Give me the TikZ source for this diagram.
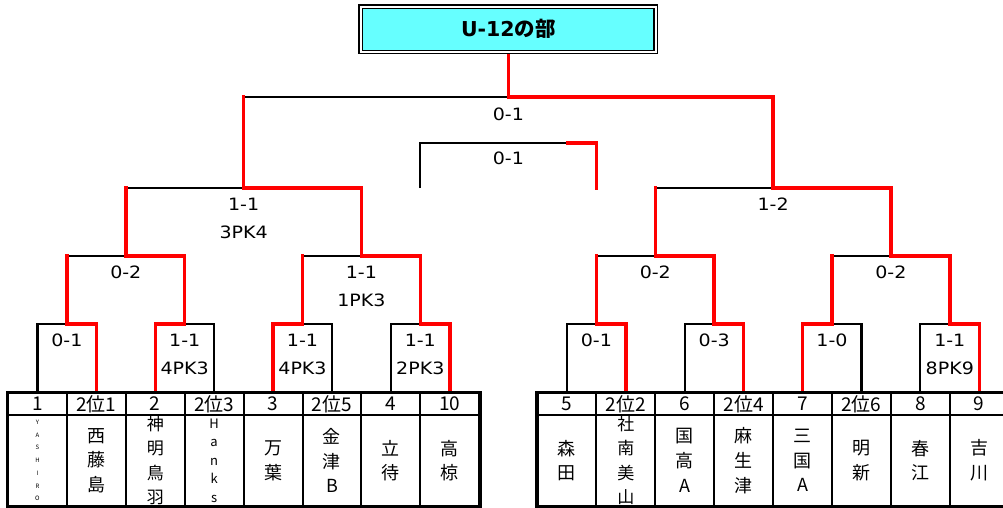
\documentclass[tikz,border=0pt]{standalone}
\usepackage{fontspec}
\usetikzlibrary{positioning}
\newfontfamily\jpfont{Noto Sans CJK JP}
\newfontfamily\latfont{DejaVu Sans}
\newfontfamily\scorefont{DejaVu Sans}[FakeStretch=1.12]
\definecolor{titlecyan}{HTML}{66FFFF}
\definecolor{winred}{HTML}{FF0000}
\begin{document}
\begin{tikzpicture}[
        x=1pt, y=-1pt,
        line join=miter,
        font=\jpfont
    ]
    \tikzset{
        headnode/.style = {rectangle, draw=black, line width=2pt, minimum width=58.9pt, minimum height=22pt, inner sep=0pt, font=\jpfont\fontsize{19}{20}\selectfont},
        teamnode/.style = {rectangle, draw=black, line width=2pt, minimum width=58.9pt, minimum height=91pt, inner sep=0pt, align=center, font=\jpfont\fontsize{18}{24.7}\selectfont},
        titlenode/.style = {rectangle, draw=black, fill=titlecyan, line width=1.6pt, double=white, double distance=1.6pt, minimum width=295pt, minimum height=45.2pt, font=\bfseries\fontsize{20.5}{24}\selectfont},
        score/.style = {inner sep=0pt, align=center, font=\scorefont\fontsize{17}{28.5}\selectfont},
        edgen/.style = {-, line width=2.2pt, black},
        edger/.style = {-, line width=3.5pt, winred, line cap=rect},
        tablebox/.style = {line width=3pt, black},
    }
    \useasboundingbox (0,0) rectangle (1003,507);
    %
    \coordinate (m1) at (66.9,324);
    \coordinate (m2) at (184.7,324);
    \coordinate (m3) at (302.5,324);
    \coordinate (m4) at (420.3,324);
    \coordinate (m5) at (596.4,324);
    \coordinate (m6) at (714.2,324);
    \coordinate (m7) at (832.0,324);
    \coordinate (m8) at (949.8,324);
    \coordinate (q1) at (125.8,256);
    \coordinate (q2) at (361.4,256);
    \coordinate (q3) at (655.3,256);
    \coordinate (q4) at (890.9,256);
    \coordinate (s1) at (243.6,188);
    \coordinate (s2) at (773.1,188);
    \coordinate (f) at (508.35,97);
    \coordinate (tp) at (508.35,143);
    \coordinate (tx) at (568,143);
    \coordinate (tl) at (420.3,188);
    \coordinate (tr) at (596.4,188);
    %
    \node[headnode] at (37.45,404) (h1) {1};
    \node[headnode] at (96.35,404) (h2) {2位1};
    \node[headnode] at (155.25,404) (h3) {2};
    \node[headnode] at (214.15,404) (h4) {2位3};
    \node[headnode] at (273.05,404) (h5) {3};
    \node[headnode] at (331.95,404) (h6) {2位5};
    \node[headnode] at (390.85,404) (h7) {4};
    \node[headnode] at (449.75,404) (h8) {10};
    \node[headnode] at (566.95,404) (h9) {5};
    \node[headnode] at (625.85,404) (h10) {2位2};
    \node[headnode] at (684.75,404) (h11) {6};
    \node[headnode] at (743.65,404) (h12) {2位4};
    \node[headnode] at (802.55,404) (h13) {7};
    \node[headnode] at (861.45,404) (h14) {2位6};
    \node[headnode] at (920.35,404) (h15) {8};
    \node[headnode] at (979.25,404) (h16) {9};
    %
    \draw[edgen] (h1.north) |- (m1);
    \draw[edger] (h2.north) |- (m1);
    \draw[edgen] (h4.north) |- (m2);
    \draw[edger] (h3.north) |- (m2);
    \draw[edgen] (h6.north) |- (m3);
    \draw[edger] (h5.north) |- (m3);
    \draw[edgen] (h7.north) |- (m4);
    \draw[edger] (h8.north) |- (m4);
    \draw[edgen] (h9.north) |- (m5);
    \draw[edger] (h10.north) |- (m5);
    \draw[edgen] (h11.north) |- (m6);
    \draw[edger] (h12.north) |- (m6);
    \draw[edgen] (h14.north) |- (m7);
    \draw[edger] (h13.north) |- (m7);
    \draw[edgen] (h15.north) |- (m8);
    \draw[edger] (h16.north) |- (m8);
    %
    \draw[edgen] (m1 |- q1) -- (q1);
    \draw[edger] (m1) -- (m1 |- q1);
    \draw[edger] (m2) |- (q1);
    \draw[edgen] (m3 |- q2) -- (q2);
    \draw[edger] (m3) -- (m3 |- q2);
    \draw[edger] (m4) |- (q2);
    \draw[edgen] (m5 |- q3) -- (q3);
    \draw[edger] (m5) -- (m5 |- q3);
    \draw[edger] (m6) |- (q3);
    \draw[edgen] (m7 |- q4) -- (q4);
    \draw[edger] (m7) -- (m7 |- q4);
    \draw[edger] (m8) |- (q4);
    %
    \draw[edgen] (q1 |- s1) -- (s1);
    \draw[edger] (q1) -- (q1 |- s1);
    \draw[edger] (q2) |- (s1);
    \draw[edgen] (q3 |- s2) -- (s2);
    \draw[edger] (q3) -- (q3 |- s2);
    \draw[edger] (q4) |- (s2);
    %
    \draw[edgen] (s1 |- f) -- (f);
    \draw[edger] (s1) -- (s1 |- f);
    \draw[edger] (s2) |- (f);
    \draw[edger] (f) -- (508.35,54);
    %
    \draw[edgen] (tl) |- (tx);
    \draw[edger] (tr) |- (tx);
    %
    \node[titlenode] at (508.35,29.3) (title) {\latfont U-12\jpfont の部};
    %
    \node[teamnode, font=\jpfont\fontsize{6}{12.7}\selectfont] at (37.45,460.5) (b1) {Y\\A\\S\\H\\I\\R\\O};
    \node[teamnode] at (96.35,460.5) (b2) {西\\藤\\島};
    \node[teamnode, font=\jpfont\fontsize{17}{24.4}\selectfont] at (155.25,460.5) (b3) {神\\明\\鳥\\羽};
    \node[teamnode, font=\jpfont\fontsize{13}{18.5}\selectfont] at (214.15,460.5) (b4) {H\\a\\n\\k\\s};
    \node[teamnode] at (273.05,460.5) (b5) {万\\葉};
    \node[teamnode] at (331.95,460.5) (b6) {金\\津\\B};
    \node[teamnode] at (390.85,460.5) (b7) {立\\待};
    \node[teamnode] at (449.75,460.5) (b8) {高\\椋};
    \node[teamnode] at (566.95,460.5) (b9) {森\\田};
    \node[teamnode, font=\jpfont\fontsize{17}{24.4}\selectfont] at (625.85,460.5) (b10) {社\\南\\美\\山};
    \node[teamnode] at (684.75,460.5) (b11) {国\\高\\A};
    \node[teamnode] at (743.65,460.5) (b12) {麻\\生\\津};
    \node[teamnode] at (802.55,460.5) (b13) {三\\国\\A};
    \node[teamnode] at (861.45,460.5) (b14) {明\\新};
    \node[teamnode] at (920.35,460.5) (b15) {春\\江};
    \node[teamnode] at (979.25,460.5) (b16) {吉\\川};
    \draw[tablebox] (h1.north west) rectangle (b8.south east);
    \draw[tablebox] (h9.north west) rectangle (b16.south east);
    %
    \node[score, below=9.8pt of m1] (r1) {0-1};
    \node[score, below=9.8pt of m2] (r2) {1-1\\4PK3};
    \node[score, below=9.8pt of m3] (r3) {1-1\\4PK3};
    \node[score, below=9.8pt of m4] (r4) {1-1\\2PK3};
    \node[score, below=9.8pt of m5] (r5) {0-1};
    \node[score, below=9.8pt of m6] (r6) {0-3};
    \node[score, below=9.8pt of m7] (r7) {1-0};
    \node[score, below=9.8pt of m8] (r8) {1-1\\8PK9};
    \node[score, below=9.8pt of q1] (rq1) {0-2};
    \node[score, below=9.8pt of q2] (rq2) {1-1\\1PK3};
    \node[score, below=9.8pt of q3] (rq3) {0-2};
    \node[score, below=9.8pt of q4] (rq4) {0-2};
    \node[score, below=9.8pt of s1] (rs1) {1-1\\3PK4};
    \node[score, below=9.8pt of s2] (rs2) {1-2};
    \node[score, below=10.5pt of f] (rf) {0-1};
    \node[score, below=9pt of tp] (rtp) {0-1};
\end{tikzpicture}
\end{document}
